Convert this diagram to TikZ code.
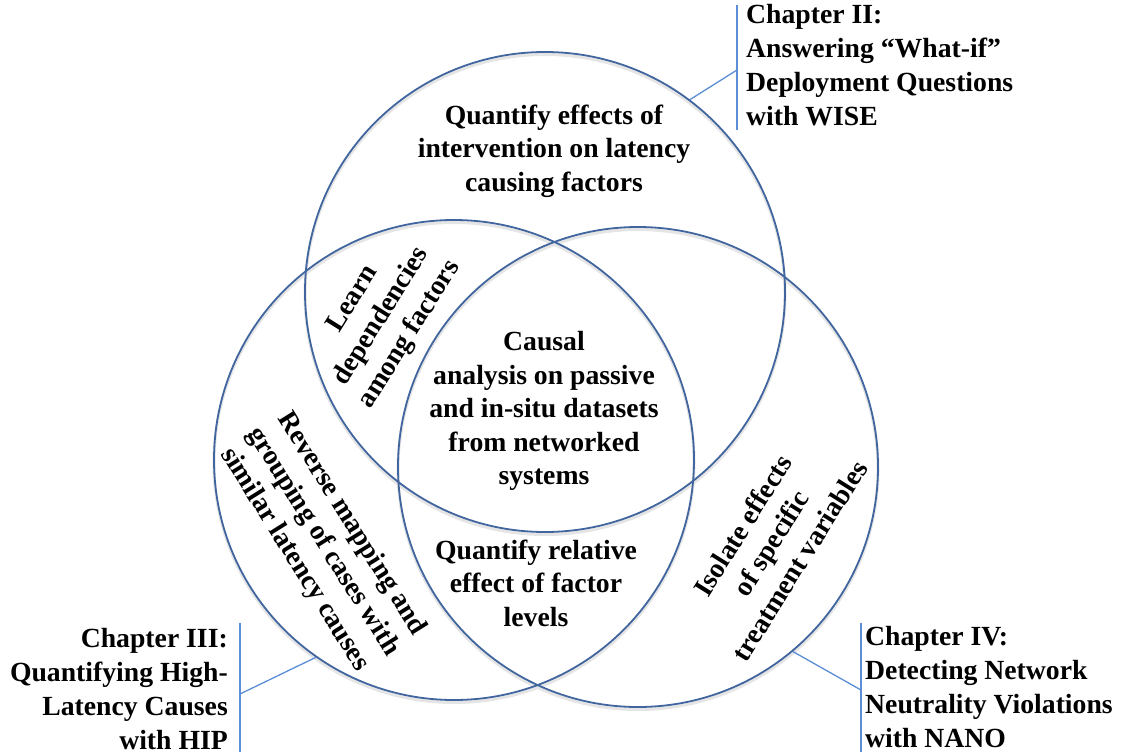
\documentclass[tikz,border=0pt]{standalone}
\usepackage{fontspec}
\setmainfont{Liberation Serif}
\definecolor{vennblue}{HTML}{41659E}
\definecolor{linkblue}{HTML}{5B8ED6}
\begin{document}
\begin{tikzpicture}[x=1pt,y=-1pt,
  venn/.style={circle, draw=vennblue, line width=1.8pt, minimum size=480pt, inner sep=0pt},
  halo/.style={draw=black!10, line width=3pt},
  lbl/.style={font=\fontsize{27.7}{33.5}\selectfont\bfseries, align=center, inner sep=0pt},
  chap/.style={font=\fontsize{27.7}{34}\selectfont\bfseries, inner sep=0pt},
  link/.style={draw=linkblue, line width=1.3pt}]
\useasboundingbox (0,0) rectangle (1129,755);

% soft shadows under the three circles
\draw[halo] (545,294.5) circle[radius=240];
\draw[halo] (454,462.5) circle[radius=240];
\draw[halo] (638,469.5) circle[radius=240];

% the three sets
\node[venn] (topc) at (545,292) {};
\node[venn] (leftc) at (454,460) {};
\node[venn] (rightc) at (638,467) {};

% region texts
\node[lbl] (toptxt) at (554,151) {Quantify effects of\\intervention on latency\\causing factors};
\node[lbl] (midtxt) at (544,411) {Causal\\analysis on passive\\and in-situ datasets\\from networked\\systems};
\node[lbl] (bottxt) at (536,583) {Quantify relative\\effect of factor\\levels};
\node[lbl, rotate=58] (learntxt) at (382,317) {Learn\\dependencies\\among factors};
\node[lbl, rotate=-58] (revtxt) at (323,542) {Reverse mapping and\\grouping of cases with\\similar latency causes};
\node[lbl, rotate=58] (isotxt) at (771,543) {Isolate effects\\of specific\\treatment variables};

% chapter captions
\node[chap, anchor=north west, align=left] (ch2) at (746,4) {Chapter II:\\Answering “What-if”\\Deployment Questions\\with WISE};
\node[chap, anchor=north east, align=right] (ch3) at (228,628) {Chapter III:\\Quantifying High-\\Latency Causes\\with HIP};
\node[chap, anchor=north west, align=left] (ch4) at (865,626) {Chapter IV:\\Detecting Network\\Neutrality Violations\\with NANO};

% caption brackets
\coordinate (b2top) at (737,5);
\coordinate (b2bot) at (737,130);
\coordinate (b2mid) at (737,70);
\coordinate (b3top) at (240,623);
\coordinate (b3bot) at (240,752);
\coordinate (b3mid) at (240,694);
\coordinate (b4top) at (861,623);
\coordinate (b4bot) at (861,752);
\coordinate (b4mid) at (861,690);

\draw[link] (b2top) -- (b2bot);
\draw[link] (topc.53.3) -- (b2mid);
\draw[link] (b3top) -- (b3bot);
\draw[link] (leftc.235.2) -- (b3mid);
\draw[link] (b4top) -- (b4bot);
\draw[link] (rightc.-50.5) -- (b4mid);
\end{tikzpicture}
\end{document}
